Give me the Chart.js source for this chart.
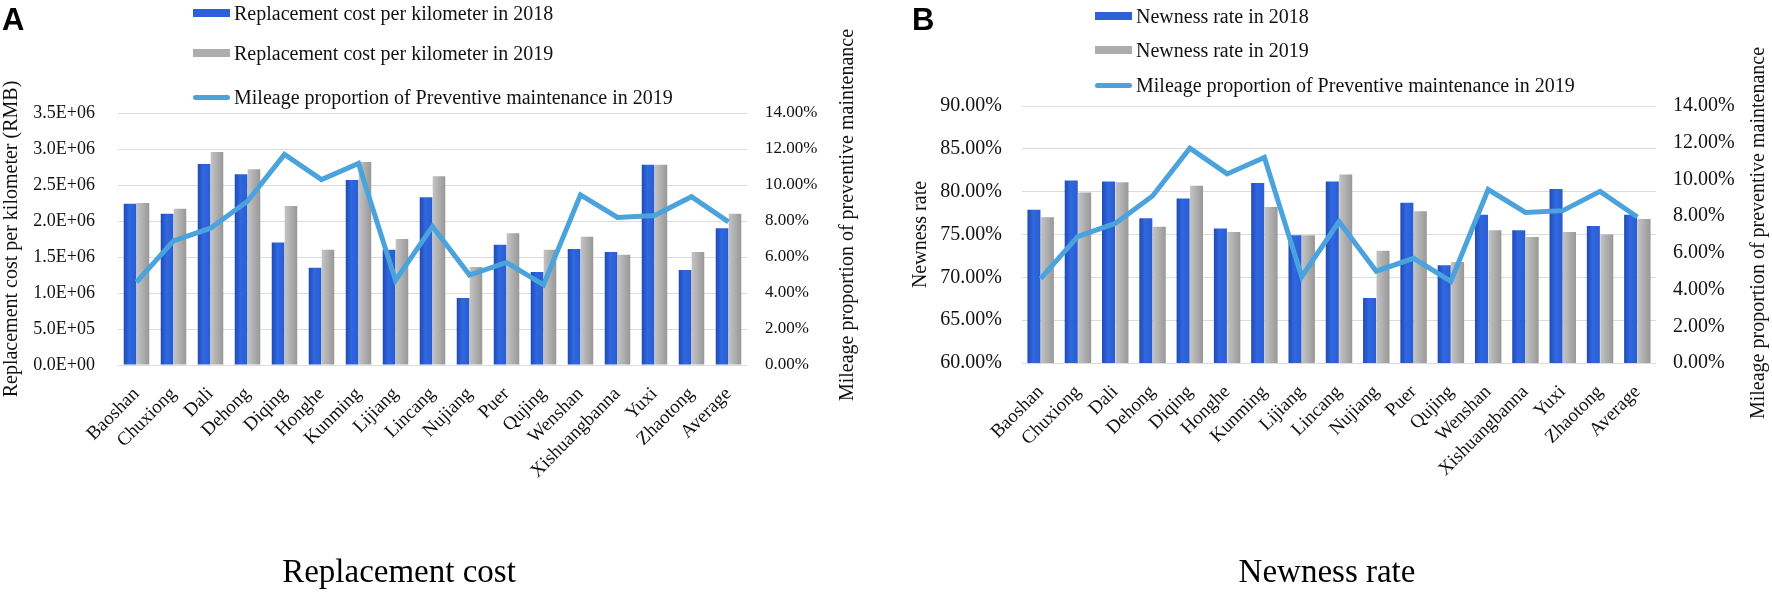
<!DOCTYPE html>
<html>
<head>
<meta charset="utf-8">
<script src="https://cdn.jsdelivr.net/npm/chart.js@4/dist/chart.umd.min.js"></script>
<style>
  html, body { margin:0; padding:0; background:#fff; }
  body { width:1772px; height:593px; position:relative; overflow:hidden; font-family:"Liberation Serif","Times New Roman",serif; }
  .cv { position:absolute; top:0; }
  .panel { position:absolute; font-family:"Liberation Sans",Arial,sans-serif; font-weight:bold; font-size:31px; line-height:31px; color:#000; }
  .caption { position:absolute; font-size:33px; line-height:33px; color:#000; white-space:nowrap; transform:translateX(-50%); }
  .leg { position:absolute; display:flex; align-items:center; height:24px; font-size:20px; color:#111; white-space:nowrap; }
  .sw { width:37px; height:8px; margin-right:4px; }
  .sw.line { height:5px; border-radius:3px; }
</style>
</head>
<body>
<canvas id="chartA" class="cv" style="left:0px"></canvas>
<canvas id="chartB" class="cv" style="left:880px"></canvas>
<div class="panel" style="left:2px;top:4px">A</div>
<div class="panel" style="left:912px;top:4px">B</div>
<div class="caption" style="left:399px;top:555px">Replacement cost</div>
<div class="caption" style="left:1327px;top:555px">Newness rate</div>
<div id="legA"></div>
<div id="legB"></div>
<script>
// ---------- data ----------
const categories = ['Baoshan','Chuxiong','Dali','Dehong','Diqing','Honghe','Kunming','Lijiang','Lincang','Nujiang','Puer','Qujing','Wenshan','Xishuangbanna','Yuxi','Zhaotong','Average'];
const cost2018 = [2.24e6, 2.10e6, 2.79e6, 2.65e6, 1.70e6, 1.35e6, 2.57e6, 1.60e6, 2.33e6, 0.93e6, 1.67e6, 1.29e6, 1.61e6, 1.57e6, 2.78e6, 1.32e6, 1.90e6];
const cost2019 = [2.25e6, 2.17e6, 2.96e6, 2.72e6, 2.21e6, 1.60e6, 2.82e6, 1.75e6, 2.62e6, 1.36e6, 1.83e6, 1.60e6, 1.78e6, 1.53e6, 2.78e6, 1.57e6, 2.10e6];
const newness2018 = [77.9, 81.3, 81.2, 76.9, 79.2, 75.7, 81.0, 74.9, 81.2, 67.6, 78.7, 71.4, 77.3, 75.5, 80.3, 76.0, 77.3];
const newness2019 = [77.0, 79.9, 81.1, 75.9, 80.7, 75.3, 78.2, 74.9, 82.0, 73.1, 77.7, 71.8, 75.5, 74.7, 75.3, 75.0, 76.8];
const preventive2019 = [4.6, 6.9, 7.6, 9.1, 11.7, 10.3, 11.2, 4.7, 7.7, 5.0, 5.7, 4.45, 9.45, 8.2, 8.3, 9.35, 7.95];

const labelsA = ['Replacement cost per kilometer in 2018', 'Replacement cost per kilometer in 2019', 'Mileage proportion of Preventive maintenance in 2019'];
const labelsB = ['Newness rate in 2018', 'Newness rate in 2019', 'Mileage proportion of Preventive maintenance in 2019'];
const titleCostAxis = 'Replacement cost per kilometer (RMB)';
const titleNewAxis = 'Newness rate';
const titleRightAxis = 'Mileage proportion of preventive maintenance';

// ---------- styles ----------
const BLUE = '#2f61d6';
const GRAY = '#adadad';
const LINE = '#4aa3dd';
const GRID = '#dcdcdc';
const SERIF = '"Liberation Serif","Times New Roman",serif';

function sci(v) {
  if (v === 0) return '0.0E+00';
  const e = Math.floor(Math.log10(Math.abs(v)) + 1e-9);
  const m = v / Math.pow(10, e);
  return m.toFixed(1) + 'E+' + String(e).padStart(2, '0');
}

// horizontal shading of each bar, positioned from the x scale
function barShade(stops, side, catPct) {
  return function (c) {
    const chart = c.chart;
    const xs = chart.scales && chart.scales.x;
    if (!xs || !chart.chartArea || typeof c.dataIndex !== 'number') return stops[1];
    const center = xs.getPixelForValue(c.dataIndex);
    const half = (xs.width / categories.length) * catPct / 2;
    const x0 = side === 0 ? center - half : center;
    const x1 = side === 0 ? center : center + half;
    const g = chart.ctx.createLinearGradient(x0, 0, x1, 0);
    g.addColorStop(0, stops[0]);
    g.addColorStop(0.45, stops[1]);
    g.addColorStop(1, stops[2]);
    return g;
  };
}

const rightTitlePlugin = {
  id: 'rightTitle',
  afterDraw(chart, args, opts) {
    const s = chart.scales.y1;
    const ctx = chart.ctx;
    ctx.save();
    ctx.font = opts.size + 'px ' + SERIF;
    ctx.fillStyle = '#111';
    ctx.textAlign = 'center';
    ctx.textBaseline = 'middle';
    ctx.translate(s.right - opts.offset, opts.centerY);
    ctx.rotate(-Math.PI / 2);
    ctx.fillText(opts.text, 0, 0);
    ctx.restore();
  }
};

function makeChart(id, w, cfg) {
  const cv = document.getElementById(id);
  cv.width = w; cv.height = 593;
  cv.style.width = w + 'px'; cv.style.height = '593px';
  const chart = new Chart(cv, {
    data: {
      labels: categories,
      datasets: [
        { type:'line', label: cfg.labels[2], data: preventive2019, yAxisID:'y1', borderColor: LINE, backgroundColor: LINE,
          borderWidth: 5, pointRadius: 0, tension: 0, order: 0 },
        { type:'bar', label: cfg.labels[0], data: cfg.s1, yAxisID:'y',
          backgroundColor: barShade(['#1f49b4', '#3068e0', '#2a5cd0'], 0, cfg.catPct),
          categoryPercentage: cfg.catPct, barPercentage: 0.97, order: 1 },
        { type:'bar', label: cfg.labels[1], data: cfg.s2, yAxisID:'y',
          backgroundColor: barShade(['#c4c4c4', '#b0b0b0', '#979797'], 1, cfg.catPct),
          categoryPercentage: cfg.catPct, barPercentage: 0.97, order: 2 }
      ]
    },
    options: {
      responsive: false,
      animation: false,
      devicePixelRatio: 1,
      layout: { padding: { top: cfg.top, left: 0, right: 0, bottom: 0 } },
      plugins: {
        legend: { display: false },
        tooltip: { enabled: false },
        rightTitle: { text: titleRightAxis, size: 20, offset: cfg.rtOffset, centerY: cfg.rtCenter }
      },
      scales: {
        x: {
          grid: { display: false }, border: { display: false },
          ticks: { autoSkip: false, maxRotation: 45, minRotation: 45, padding: cfg.xPad, color: '#111',
                   font: { family: SERIF, size: cfg.xFont } },
          afterFit: s => { s.height = 593 - cfg.bottom; }
        },
        y: {
          position: 'left', min: cfg.yMin, max: cfg.yMax,
          grid: { color: GRID, drawTicks: false }, border: { display: false },
          ticks: { stepSize: cfg.yStep, padding: cfg.yPad, color: '#111', font: { family: SERIF, size: cfg.yFont },
                   callback: cfg.yFmt },
          title: { display: true, text: cfg.yTitle, color: '#111', font: { family: SERIF, size: 20 },
                   padding: { top: cfg.yTitlePad, bottom: 0 } },
          afterFit: s => { s.width = cfg.left; }
        },
        y1: {
          position: 'right', min: 0, max: 14,
          grid: { display: false, drawTicks: false }, border: { display: false },
          ticks: { stepSize: 2, padding: cfg.y1Pad, color: '#111', font: { family: SERIF, size: cfg.y1Font },
                   callback: v => v.toFixed(2) + '%' },
          afterFit: s => { s.width = cfg.rightW; }
        }
      }
    },
    plugins: [rightTitlePlugin]
  });
  chart.update();
  return chart;
}

makeChart('chartA', 880, {
  labels: labelsA, s1: cost2018, s2: cost2019, catPct: 0.7,
  top: 113, bottom: 365, left: 118, rightW: 133,
  yMin: 0, yMax: 3.5e6, yStep: 5e5, yFmt: v => sci(v), yFont: 18, yPad: 23, yTitle: titleCostAxis, yTitlePad: 0,
  y1Font: 17, y1Pad: 18, rtOffset: 32, rtCenter: 215,
  xFont: 19, xPad: 10
});
makeChart('chartB', 892, {
  labels: labelsB, s1: newness2018, s2: newness2019, catPct: 0.72,
  top: 106, bottom: 363, left: 142, rightW: 116,
  yMin: 60, yMax: 90, yStep: 5, yFmt: v => v.toFixed(2) + '%', yFont: 20, yPad: 20, yTitle: titleNewAxis, yTitlePad: 29,
  y1Font: 20, y1Pad: 17, rtOffset: 13, rtCenter: 233,
  xFont: 19, xPad: 10
});

// ---------- HTML legends ----------
function buildLegend(id, labels, x, ys) {
  const host = document.getElementById(id);
  const kinds = ['bar1', 'bar2', 'line'];
  labels.forEach((t, i) => {
    const row = document.createElement('div');
    row.className = 'leg';
    row.style.left = x + 'px';
    row.style.top = (ys[i] - 12) + 'px';
    const sw = document.createElement('div');
    sw.className = 'sw' + (kinds[i] === 'line' ? ' line' : '');
    sw.style.background = kinds[i] === 'bar1' ? BLUE : kinds[i] === 'bar2' ? GRAY : LINE;
    const tx = document.createElement('span');
    tx.textContent = t;
    row.appendChild(sw); row.appendChild(tx);
    host.appendChild(row);
  });
}
buildLegend('legA', labelsA, 193, [13, 53, 97]);
buildLegend('legB', labelsB, 1095, [16, 50, 85]);
</script>
</body>
</html>
